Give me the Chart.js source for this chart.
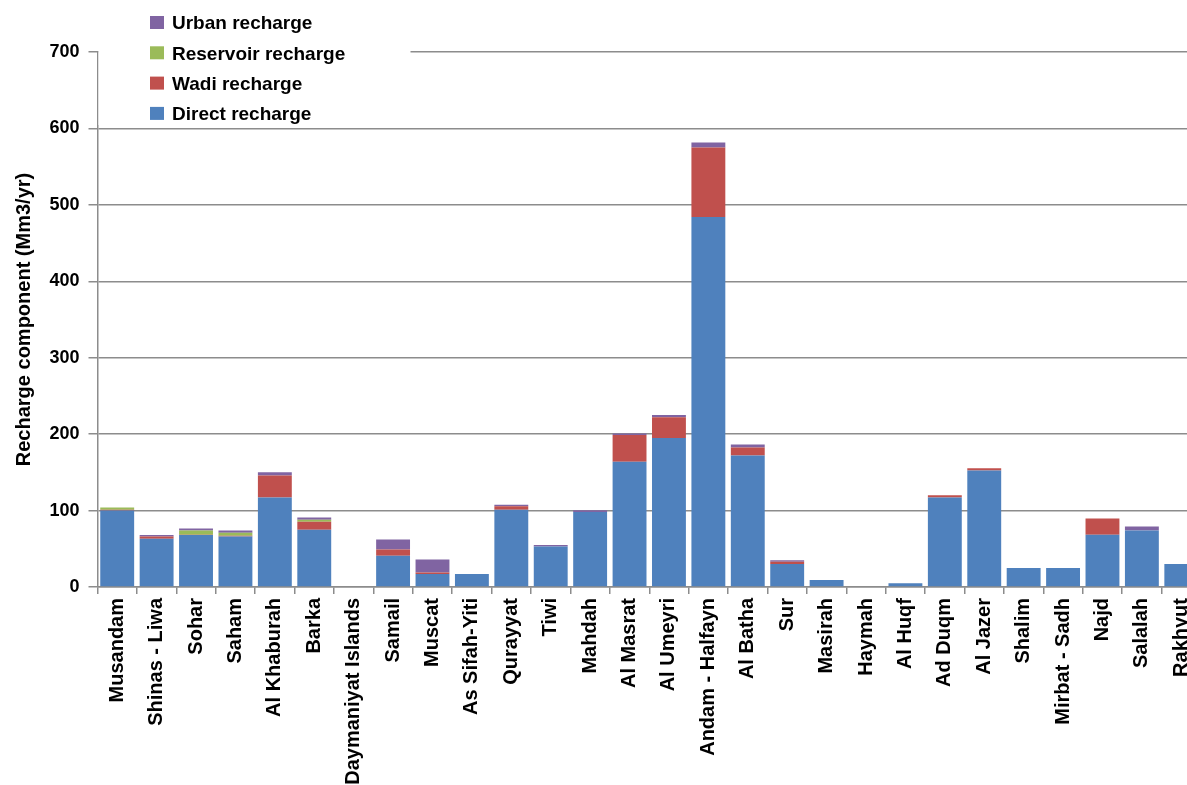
<!DOCTYPE html>
<html>
<head>
<meta charset="utf-8">
<script src="https://cdn.jsdelivr.net/npm/chart.js@4/dist/chart.umd.min.js"></script>
<style>
  html, body { margin: 0; padding: 0; background: #fff; overflow: hidden; }
  #wrap { width: 1210px; height: 785px; }
</style>
</head>
<body>
<div id="wrap"><canvas id="rechargeChart" width="1210" height="785"></canvas></div>
<script>
const categories = ['Musandam', 'Shinas - Liwa', 'Sohar', 'Saham', 'Al Khaburah', 'Barka',
  'Daymaniyat Islands', 'Samail', 'Muscat', 'As Sifah-Yiti', 'Qurayyat', 'Tiwi', 'Mahdah',
  'Al Masrat', 'Al Umeyri', 'Andam - Halfayn', 'Al Batha', 'Sur', 'Masirah', 'Haymah',
  'Al Huqf', 'Ad Duqm', 'Al Jazer', 'Shalim', 'Mirbat - Sadh', 'Najd', 'Salalah', 'Rakhyut'];

const directRecharge = [100, 63, 68, 66, 117, 75, 0, 41, 17, 17, 101, 53, 98, 164, 195, 484,
  172, 30, 9, 0, 5, 117, 152.5, 25, 25, 68.5, 74, 30];
const wadiRecharge = [1, 3, 0.5, 1, 29, 10.5, 0, 8, 2, 0, 4.5, 0, 0, 35, 27, 91,
  10.5, 3, 0, 0, 0, 3, 3, 0, 0, 21, 0, 0];
const reservoirRecharge = [3, 0, 5.5, 4, 0, 2.5, 0, 0, 0, 0, 0, 0, 0, 0, 0, 0,
  0, 0, 0, 0, 0, 0, 0, 0, 0, 0, 0, 0];
const urbanRecharge = [0, 2, 2.5, 3, 4, 3, 0, 13, 17, 0, 2, 2, 2.5, 2, 3, 6.5,
  4, 2, 0, 0, 0, 0, 0, 0, 0, 0, 5, 0];

const yTicks = [0, 100, 200, 300, 400, 500, 600, 700];

const FONT = "'Liberation Sans', Arial, sans-serif";
const GRID = '#8c8c8c';

// legend box in the top-left corner of the plot, listed top series first
const boxLegend = {
  id: 'boxLegend',
  beforeDatasetsDraw(chart) {
    const ctx = chart.ctx;
    ctx.save();
    ctx.fillStyle = '#fff';
    ctx.fillRect(chart.chartArea.left + 1, 0, 312, 125);
    ctx.font = 'bold 19px ' + FONT;
    ctx.textBaseline = 'middle';
    const sets = chart.data.datasets.slice().reverse();
    sets.forEach((ds, i) => {
      const y = 23 + i * 30.3;
      ctx.fillStyle = ds.backgroundColor;
      ctx.fillRect(150, y - 7, 14, 13);
      ctx.fillStyle = '#000';
      ctx.fillText(ds.label, 172, y + 1);
    });
    ctx.restore();
  }
};

const ctx = document.getElementById('rechargeChart').getContext('2d');
const rechargeChart = new Chart(ctx, {
  type: 'bar',
  data: {
    labels: categories,
    datasets: [
      { label: 'Direct recharge', data: directRecharge, backgroundColor: '#4F81BD' },
      { label: 'Wadi recharge', data: wadiRecharge, backgroundColor: '#C0504D' },
      { label: 'Reservoir recharge', data: reservoirRecharge, backgroundColor: '#9BBB59' },
      { label: 'Urban recharge', data: urbanRecharge, backgroundColor: '#8064A2' }
    ]
  },
  options: {
    responsive: false,
    animation: false,
    layout: { padding: { top: 52, right: 9, bottom: 0, left: 0 } },
    datasets: {
      bar: { barPercentage: 0.86, categoryPercentage: 1, borderWidth: 0 }
    },
    scales: {
      x: {
        stacked: true,
        afterFit: (scale) => { scale.height = 198; },
        border: { color: GRID, width: 1.5 },
        grid: { offset: true, drawOnChartArea: false, drawTicks: true, tickLength: 7, color: GRID, lineWidth: 1.5 },
        ticks: {
          autoSkip: false,
          maxRotation: 90,
          minRotation: 90,
          padding: 4,
          color: '#000',
          font: { family: FONT, size: 20, weight: 'bold' }
        }
      },
      y: {
        stacked: true,
        min: 0,
        max: 700,
        afterFit: (scale) => { scale.width = 97.5; },
        afterBuildTicks: (scale) => { scale.ticks = yTicks.map(v => ({ value: v })); },
        border: { color: GRID, width: 1.5 },
        grid: { color: GRID, lineWidth: 1.5, tickLength: 9 },
        ticks: {
          padding: 9,
          color: '#000',
          font: { family: FONT, size: 18, weight: 'bold' }
        },
        title: {
          display: true,
          text: 'Recharge component (Mm3/yr)',
          color: '#000',
          padding: { top: 12, bottom: 0 },
          font: { family: FONT, size: 20, weight: 'bold' }
        }
      }
    },
    plugins: {
      legend: { display: false },
      tooltip: { enabled: false }
    }
  },
  plugins: [boxLegend]
});
</script>
</body>
</html>
